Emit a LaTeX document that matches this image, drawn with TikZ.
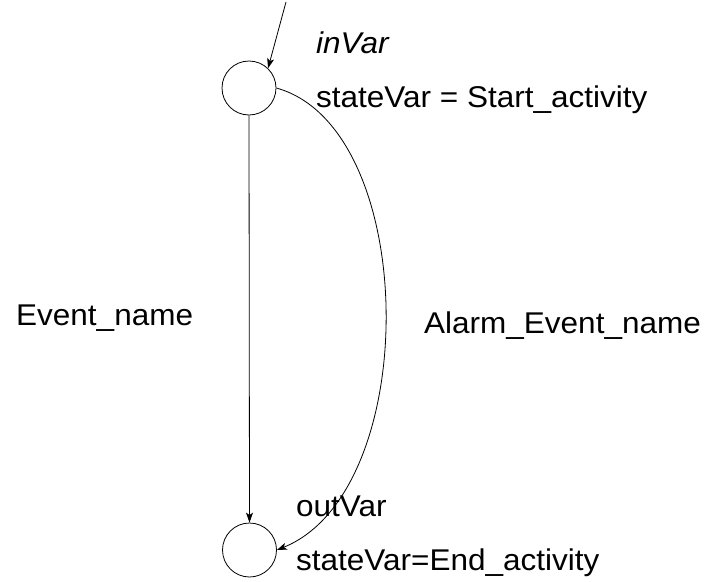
\documentclass[tikz,border=0pt]{standalone}
\usepackage{fontspec}
\setmainfont{Liberation Sans}[FakeStretch=1.05]
\usetikzlibrary{arrows.meta}
\begin{document}
\begin{tikzpicture}[x=1pt,y=-1pt,
  state/.style={circle,draw,line width=0.8pt,minimum size=54pt,inner sep=0pt},
  label/.style={anchor=base west,inner sep=0pt,font=\fontsize{30}{36}\selectfont},
  edge/.style={line width=0.8pt,-{Stealth[length=10pt,width=7pt,inset=2.5pt]}}]
  \useasboundingbox (0,0) rectangle (711,581);

  % states
  \node[state] (start) at (249,88) {};
  \node[state] (finish) at (249.5,550) {};
  \coordinate (entry) at (286,2);

  % texts
  \node[label] (invar) at (316,53) {\itshape inVar};
  \node[label] (startvar) at (316,107) {stateVar = Start\_activity};
  \node[label] (ev) at (16,325) {Event\_name};
  \node[label] (alarm) at (424,333) {Alarm\_Event\_name};
  \node[label] (outvar) at (296,516) {outVar};
  \node[label] (endvar) at (296,570) {stateVar=End\_activity};

  % transitions
  \draw[edge] (entry) -- (start.46.5);
  \draw[edge] (start.south) -- (finish.north);
  \draw[edge] (start.east) .. controls (420,128) and (423,491) .. (finish.east);
\end{tikzpicture}
\end{document}
